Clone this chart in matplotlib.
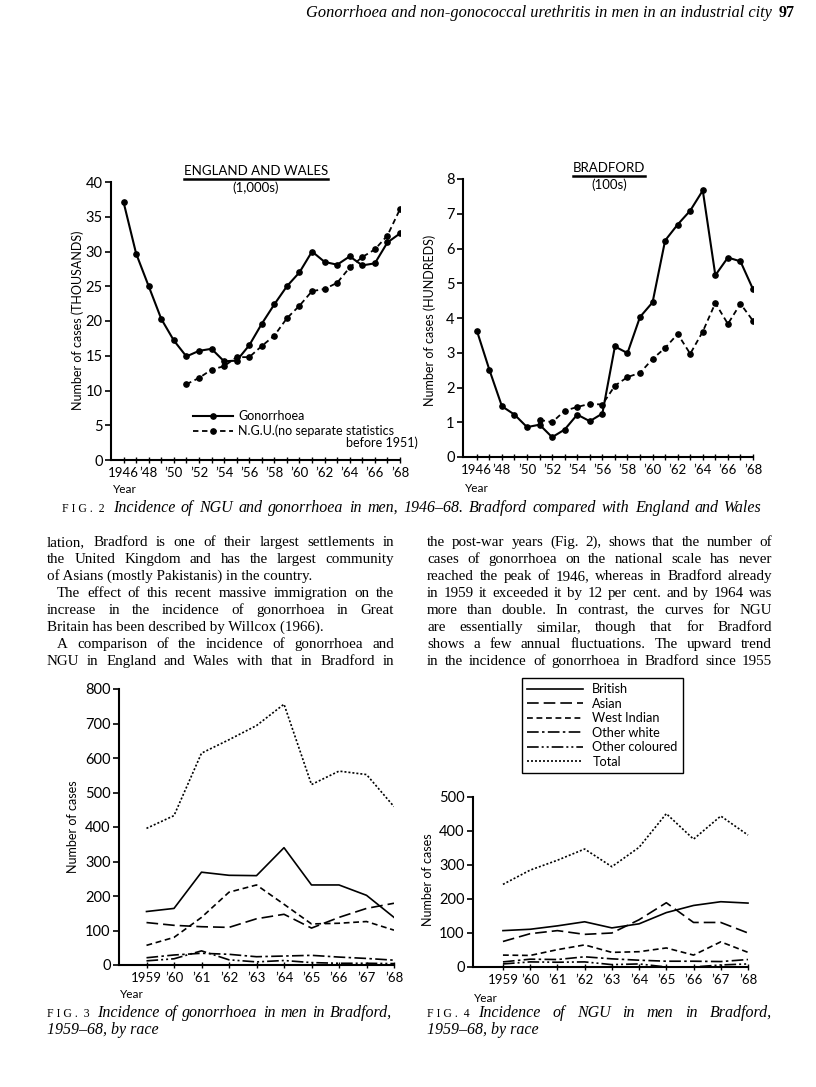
import matplotlib
matplotlib.use("Agg")
import matplotlib.pyplot as plt
from matplotlib.lines import Line2D

W, H = 816, 1087

# ---- Fig. 2 data (England and Wales in 1,000s; Bradford in 100s) ----
years_46 = list(range(1946, 1969))
years_51 = list(range(1951, 1969))
ew_gon = [37.1, 29.7, 25.0, 20.3, 17.2, 14.9, 15.7, 16.0, 14.2, 14.3, 16.5, 19.6,
          22.4, 25.0, 27.0, 30.0, 28.5, 28.1, 29.3, 28.0, 28.3, 31.3, 32.6]
ew_ngu = [10.9, 11.8, 13.0, 13.5, 14.8, 14.8, 16.4, 17.9, 20.4, 22.2, 24.3, 24.6,
          25.5, 27.7, 29.2, 30.3, 32.3, 36.1]
bf_gon = [3.64, 2.51, 1.46, 1.22, 0.86, 0.93, 0.57, 0.79, 1.22, 1.03, 1.25, 3.18,
          2.99, 4.03, 4.45, 6.23, 6.69, 7.09, 7.67, 5.23, 5.74, 5.63, 4.83]
bf_ngu = [1.07, 1.00, 1.33, 1.44, 1.53, 1.51, 2.05, 2.30, 2.42, 2.82, 3.14, 3.54,
          2.97, 3.61, 4.43, 3.83, 4.41, 3.92]
fig2_ticks = list(range(1946, 1969, 2))
fig2_ticklabels = ["1946"] + ["\u2019%02d" % (y % 100) for y in fig2_ticks[1:]]

# ---- Fig. 3 / Fig. 4 data (cases by race) ----
years_59 = list(range(1959, 1969))
race_ticklabels = ["1959"] + ["\u2019%02d" % (y % 100) for y in years_59[1:]]
races = ["British", "Asian", "West Indian", "Other white", "Other coloured", "Total"]
gon_race = {
    "British":        [155, 164, 269, 260, 259, 340, 232, 232, 202, 138],
    "Asian":          [123, 115, 111, 109, 134, 147, 107, 138, 164, 179],
    "West Indian":    [57, 80, 138, 211, 232, 176, 119, 121, 126, 101],
    "Other white":    [21, 29, 34, 31, 24, 26, 28, 23, 19, 14],
    "Other coloured": [12, 18, 41, 15, 9, 13, 7, 5, 5, 4],
    "Total":          [396, 433, 614, 653, 694, 756, 523, 562, 552, 459],
}
ngu_race = {
    "British":        [107, 111, 121, 133, 115, 127, 160, 181, 192, 188],
    "Asian":          [75, 98, 107, 96, 100, 139, 189, 131, 131, 100],
    "West Indian":    [35, 34, 51, 65, 43, 45, 56, 35, 74, 43],
    "Other white":    [15, 23, 22, 30, 24, 20, 17, 17, 16, 22],
    "Other coloured": [9, 15, 14, 15, 7, 9, 0, 0, 6, 9],
    "Total":          [243, 285, 314, 347, 295, 352, 451, 376, 444, 388],
}
race_styles = {
    "British": "-",
    "Asian": (0, (7, 3)),
    "West Indian": (0, (3.5, 2.2)),
    "Other white": (0, (7, 2, 1.5, 2)),
    "Other coloured": (0, (7, 1.8, 1.2, 1.8, 1.2, 1.8)),
    "Total": (0, (1.2, 1.2)),
}

SANS = ["Lato", "DejaVu Sans"]
SERIF = ["Liberation Serif", "DejaVu Serif"]
plt.rcParams["font.family"] = SANS
plt.rcParams["axes.linewidth"] = 1.5


def box(l, t, r, b):
    return [l / W, 1 - b / H, (r - l) / W, (b - t) / H]


def fx(x):
    return x / W


def fy(y):
    return 1 - y / H


fig = plt.figure(figsize=(W / 100, H / 100), dpi=100)
fig.patch.set_facecolor("white")
renderer = fig.canvas.get_renderer()


def style_axes(ax, xlim, ylim, yticks, xticks, xlabels, minor=None):
    ax.set_xlim(*xlim)
    ax.set_ylim(*ylim)
    for s in ("top", "right"):
        ax.spines[s].set_visible(False)
    ax.set_yticks(yticks)
    ax.set_xticks(xticks)
    ax.set_xticklabels(xlabels)
    if minor is not None:
        ax.set_xticks(minor, minor=True)
    ax.tick_params(axis="y", direction="out", length=4, width=1.2, labelsize=10.5, pad=2)
    ax.tick_params(axis="x", which="both", direction="inout", length=4, width=1.0,
                   labelsize=9.5, pad=3)
    ax.patch.set_alpha(0)


def underlined_title(x, y, title, sub, sub_dy):
    t = fig.text(fx(x), fy(y), title, ha="center", va="center", fontsize=9.5)
    bb = t.get_window_extent(renderer)
    fig.add_artist(Line2D([bb.x0 / W, bb.x1 / W], [(bb.y0 - 2) / H] * 2,
                          color="black", lw=1.8))
    fig.text(fx(x), fy(y + sub_dy), sub, ha="center", va="center", fontsize=9.5)


# ---------------- Fig. 2 left: England and Wales ----------------
ax1 = fig.add_axes(box(111, 182, 400, 460))
g1, = ax1.plot(years_46, ew_gon, "-", color="black", lw=1.5, marker="o", ms=3.8)
n1, = ax1.plot(years_51, ew_ngu, "--", color="black", lw=1.3, marker="o", ms=3.8,
               dashes=(3, 2))
style_axes(ax1, (1945, 1968), (0, 40), range(0, 41, 5), fig2_ticks, fig2_ticklabels,
           minor=years_46)
ax1.legend([g1, n1], ["Gonorrhoea", "N.G.U.(no separate statistics"],
           loc="upper left", bbox_to_anchor=(fx(193), fy(410)),
           bbox_transform=fig.transFigure, frameon=False, fontsize=9,
           handlelength=3.2, handletextpad=0.4, labelspacing=0.2, borderpad=0,
           borderaxespad=0, numpoints=1)
fig.text(fx(418), fy(443), "before 1951)", ha="right", va="center", fontsize=9)
fig.text(fx(78), fy(320), "Number of cases (THOUSANDS)", rotation=90,
         ha="center", va="center", fontsize=9)
fig.text(fx(113), fy(489), "Year", ha="left", va="center", fontsize=8.5)
underlined_title(256, 171, "ENGLAND AND WALES", "(1,000s)", 17)

# ---------------- Fig. 2 right: Bradford ----------------
ax2 = fig.add_axes(box(463, 179, 753, 457))
ax2.plot(years_46, bf_gon, "-", color="black", lw=1.5, marker="o", ms=3.8)
ax2.plot(years_51, bf_ngu, "--", color="black", lw=1.3, marker="o", ms=3.8,
         dashes=(3, 2))
style_axes(ax2, (1944.9, 1968), (0, 8), range(0, 9), fig2_ticks, fig2_ticklabels,
           minor=years_46)
fig.text(fx(430), fy(320), "Number of cases (HUNDREDS)", rotation=90,
         ha="center", va="center", fontsize=9)
fig.text(fx(465), fy(488), "Year", ha="left", va="center", fontsize=8.5)
underlined_title(609, 168, "BRADFORD", "(100s)", 17)

# ---------------- Fig. 3 ----------------
ax3 = fig.add_axes(box(119, 689, 394, 965))
for r in races:
    ax3.plot(years_59, gon_race[r], color="black", lw=1.2, linestyle=race_styles[r])
style_axes(ax3, (1958, 1968), (0, 800), range(0, 801, 100), years_59, race_ticklabels)
fig.text(fx(73), fy(827), "Number of cases", rotation=90, ha="center", va="center",
         fontsize=9)
fig.text(fx(120), fy(994), "Year", ha="left", va="center", fontsize=8.5)

# ---------------- Fig. 4 ----------------
ax4 = fig.add_axes(box(473, 797, 748, 967))
handles = []
for r in races:
    h, = ax4.plot(years_59, ngu_race[r], color="black", lw=1.2,
                  linestyle=race_styles[r], clip_on=False)
    handles.append(h)
style_axes(ax4, (1957.9, 1968), (0, 500), range(0, 501, 100), years_59, race_ticklabels)
leg = ax4.legend(handles, races, loc="upper left", bbox_to_anchor=(fx(522), fy(678)),
                 bbox_transform=fig.transFigure, fontsize=9.2, handlelength=4.4,
                 handletextpad=0.7, labelspacing=0.2, borderpad=0.4,
                 borderaxespad=0, fancybox=False, edgecolor="black", framealpha=1)
leg.get_frame().set_linewidth(1.0)
fig.text(fx(428), fy(880), "Number of cases", rotation=90, ha="center", va="center",
         fontsize=9)
fig.text(fx(474), fy(999), "Year", ha="left", va="center", fontsize=8.5)


# ---------------- page text ----------------
def line(text, x0, x1, y, size=10.8, just=True, style="normal", weight="normal"):
    kw = dict(fontsize=size, va="baseline", family=SERIF, style=style, weight=weight)
    words = text.split()
    if not just or len(words) < 2:
        fig.text(fx(x0), fy(y), text, ha="left", **kw)
        return
    arts = [fig.text(0, fy(y), w, ha="left", **kw) for w in words]
    widths = [a.get_window_extent(renderer).width for a in arts]
    gap = max((x1 - x0 - sum(widths)) / (len(words) - 1), 2.0)
    x = x0
    for a, w in zip(arts, widths):
        a.set_x(fx(x))
        x += w + gap


def caption(label, x0, x1, y, text, tx, just=True):
    fig.text(fx(x0), fy(y), label, fontsize=8.5, family=SERIF, va="baseline")
    line(text, tx, x1, y, size=11.5, just=just, style="italic")


# running head
fig.text(fx(795), fy(17), "97", ha="right", va="baseline", fontsize=11.5,
         family=SERIF, weight="bold")
fig.text(fx(772), fy(17), "Gonorrhoea and non-gonococcal urethritis in men in an industrial city",
         ha="right", va="baseline", fontsize=11.8, family=SERIF, style="italic")

caption("F I G .  2", 62, 762, 512,
        "Incidence of NGU and gonorrhoea in men, 1946\u201368. Bradford compared with England and Wales",
        113)

left_col = [
    ("lation, Bradford is one of their largest settlements in", 0, True),
    ("the United Kingdom and has the largest community", 0, True),
    ("of Asians (mostly Pakistanis) in the country.", 0, False),
    ("The effect of this recent massive immigration on the", 10, True),
    ("increase in the incidence of gonorrhoea in Great", 0, True),
    ("Britain has been described by Willcox (1966).", 0, False),
    ("A comparison of the incidence of gonorrhoea and", 10, True),
    ("NGU in England and Wales with that in Bradford in", 0, True),
]
right_col = [
    "the post-war years (Fig. 2), shows that the number of",
    "cases of gonorrhoea on the national scale has never",
    "reached the peak of 1946, whereas in Bradford already",
    "in 1959 it exceeded it by 12 per cent. and by 1964 was",
    "more than double. In contrast, the curves for NGU",
    "are essentially similar, though that for Bradford",
    "shows a few annual fluctuations. The upward trend",
    "in the incidence of gonorrhoea in Bradford since 1955",
]
for i, (txt, indent, just) in enumerate(left_col):
    line(txt, 47 + indent, 394, 546 + 17 * i, just=just)
for i, txt in enumerate(right_col):
    line(txt, 427, 772, 546 + 17 * i)

caption("F I G .  3", 47, 392, 1017, "Incidence of gonorrhoea in men in Bradford,", 97)
line("1959\u201368, by race", 47, 392, 1034, size=11.5, just=False, style="italic")
caption("F I G .  4", 427, 772, 1017, "Incidence of NGU in men in Bradford,", 478)
line("1959\u201368, by race", 427, 772, 1034, size=11.5, just=False, style="italic")

fig.savefig("out.png", dpi=100, facecolor="white")
